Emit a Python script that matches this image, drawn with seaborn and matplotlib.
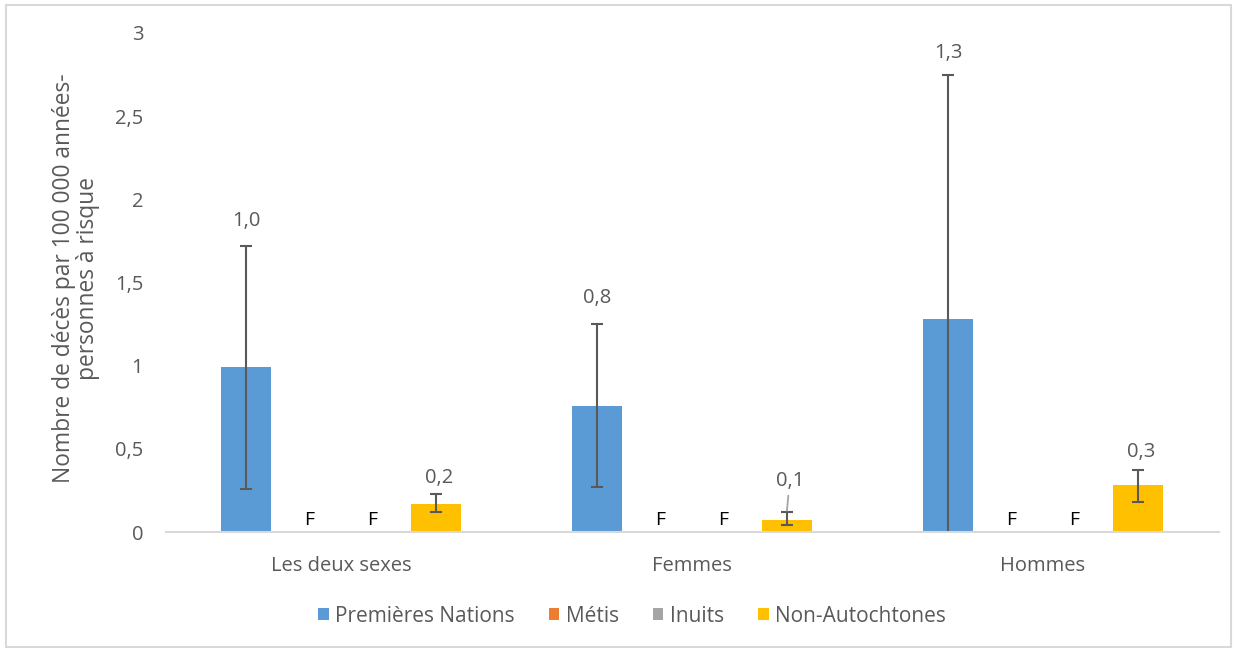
import numpy as np
import pandas as pd
import matplotlib
matplotlib.use("Agg")
import matplotlib.pyplot as plt
from matplotlib.patches import Rectangle
from matplotlib.ticker import FuncFormatter
import seaborn as sns

# ---- data ----
categories = ["Les deux sexes", "Femmes", "Hommes"]
groups = ["Premières Nations", "Métis", "Inuits", "Non-Autochtones"]
premieres_nations = [0.99, 0.76, 1.28]
metis = [np.nan, np.nan, np.nan]          # F : trop peu fiable pour être publié
inuits = [np.nan, np.nan, np.nan]         # F
non_autochtones = [0.17, 0.07, 0.28]
pn_low = [0.26, 0.27, 0.0]
pn_high = [1.72, 1.25, 2.75]
na_low = [0.12, 0.04, 0.18]
na_high = [0.23, 0.12, 0.37]
pn_labels = ["1,0", "0,8", "1,3"]
na_labels = ["0,2", "0,1", "0,3"]
y_ticks = [0, 0.5, 1, 1.5, 2, 2.5, 3]

colors = ["#5B9BD5", "#ED7D31", "#A5A5A5", "#FFC000"]
text_col = "#595959"

sns.set_theme(style="white")
plt.rcParams["font.family"] = ["Open Sans", "DejaVu Sans"]

series = [premieres_nations, metis, inuits, non_autochtones]
rows = []
for g, vals in zip(groups, series):
    for c, v in zip(categories, vals):
        rows.append({"sexe": c, "groupe": g, "valeur": v,
                     "plot": 0.0 if np.isnan(v) else v})
df = pd.DataFrame(rows)

W, H = 1237, 652
fig = plt.figure(figsize=(W / 100, H / 100), dpi=100)
ax = fig.add_axes([165.5 / W, 1 - 532 / H, (1218.5 - 165.5) / W, (532 - 33) / H])

sns.barplot(data=df, x="sexe", y="plot", hue="groupe", order=categories,
            hue_order=groups, palette=colors, width=0.72, gap=0.21,
            errorbar=None, linewidth=0, saturation=1, ax=ax)

ax.set_ylim(0, 3)
ax.set_xlim(-0.5, 2.5)
ax.set_yticks(y_ticks)
ax.yaxis.set_major_formatter(FuncFormatter(lambda v, p: f"{v:g}".replace(".", ",")))
ax.tick_params(axis="both", length=0, labelcolor=text_col, labelsize=14.5)
ax.tick_params(axis="y", pad=16)
ax.tick_params(axis="x", pad=17)
for s in ["top", "right", "left"]:
    ax.spines[s].set_visible(False)
ax.spines["bottom"].set_color("#D9D9D9")
ax.spines["bottom"].set_linewidth(1.5)
ax.set_xlabel("")
ax.set_ylabel("Nombre de décès par 100 000 années-\npersonnes à risque",
              color=text_col, fontsize=16.4, linespacing=1.0)
ax.yaxis.set_label_coords(-0.062, 0.509)

# bar centers per hue level
centers = []
for cont in ax.containers:
    centers.append([p.get_x() + p.get_width() / 2 for p in cont.patches])

# error bars
err_kw = dict(fmt="none", ecolor=text_col, elinewidth=1.5, capsize=4.5, capthick=1.5)
for xs, v, lo, hi in [(centers[0], premieres_nations, pn_low, pn_high),
                      (centers[3], non_autochtones, na_low, na_high)]:
    v = np.array(v)
    ax.errorbar(xs, v, yerr=[v - np.array(lo), np.array(hi) - v], **err_kw)

# data labels (offset in pixels above upper bound)
pn_off = [25, 26, 22]
na_off = [16, 31, 18]
for i in range(3):
    ax.annotate(pn_labels[i], (centers[0][i], pn_high[i]), xytext=(0, pn_off[i]),
                textcoords="offset pixels", ha="center", va="center",
                color=text_col, fontsize=14.5)
    kw = {}
    if i == 1:
        kw["arrowprops"] = dict(arrowstyle="-", color="#A6A6A6", lw=1.3,
                                shrinkA=1, shrinkB=1)
    ax.annotate(na_labels[i], (centers[3][i], na_high[i]), xytext=(3, na_off[i]),
                textcoords="offset pixels", ha="center", va="center",
                color=text_col, fontsize=14.5, **kw)

# "F" labels for suppressed values
for k, vals in [(1, metis), (2, inuits)]:
    for i, v in enumerate(vals):
        if np.isnan(v):
            ax.annotate("F", (centers[k][i], 0), xytext=(0, 12),
                        textcoords="offset pixels", ha="center", va="center",
                        color="black", fontsize=14)

# legend
handles, labels = ax.get_legend_handles_labels()
ax.legend(handles, labels, loc="center", bbox_to_anchor=(632 / W, 1 - 616 / H),
          bbox_transform=fig.transFigure, ncol=4, frameon=False, fontsize=15,
          labelcolor=text_col, handlelength=0.5, handleheight=0.5,
          handletextpad=0.3, columnspacing=1.65)

# chart border
fig.patches.append(Rectangle((6 / W, 5 / H), (W - 12) / W, (H - 10) / H,
                             transform=fig.transFigure, fill=False,
                             edgecolor="#D9D9D9", lw=1.5))

fig.savefig("out.png", dpi=100, facecolor="white")
